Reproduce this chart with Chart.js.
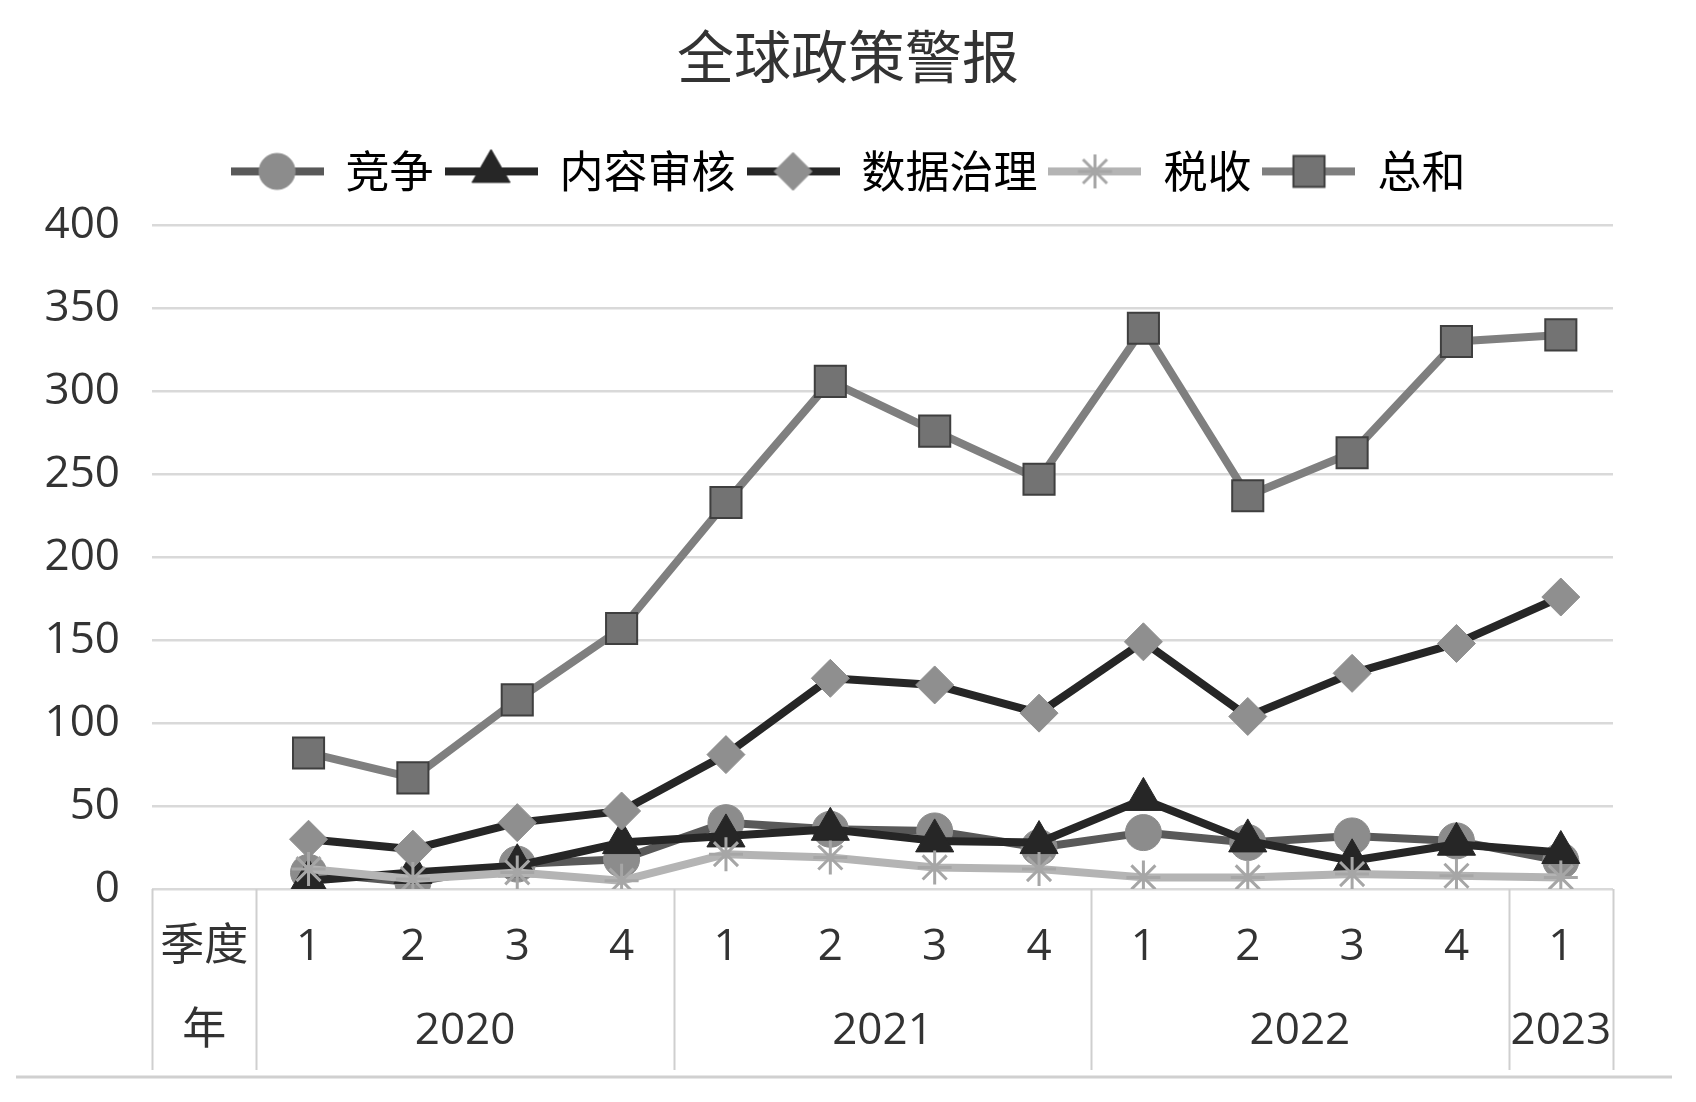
<!DOCTYPE html>
<html lang="zh">

<head>
    <meta charset="UTF-8">
    <title>全球政策警报</title>
    <script src="https://cdn.jsdelivr.net/npm/chart.js"></script>
    <style>
        body { margin: 0; background: #fff; }
        .janela { width: 1696px; height: 1102px; position: relative; }
    </style>
</head>

<body>
    <div class="janela">
        <canvas id="graficoLinha"></canvas>
    </div>

<script>
    // dados (o primeiro slot é o cabeçalho "季度 / 年", sem valores)
    const quarters = ['季度', '1', '2', '3', '4', '1', '2', '3', '4', '1', '2', '3', '4', '1'];
    const yearHeader = '年';
    const years = ['2020', '2021', '2022', '2023'];
    const yearSpans = [4, 4, 4, 1];
    const yTicks = [0, 50, 100, 150, 200, 250, 300, 350, 400];

    const competition = [null, 10, 4, 15, 18, 40, 36, 35, 25, 34, 28, 32, 29, 17];
    const contentReview = [null, 5, 10, 14, 28, 32, 36, 29, 28, 54, 29, 17, 27, 22];
    const dataGovernance = [null, 30, 24, 40, 47, 81, 127, 123, 106, 149, 104, 130, 148, 176];
    const taxation = [null, 12, 6, 10, 5, 21, 19, 13, 12, 7, 7, 9, 8, 7];
    const total = [null, 82, 67, 114, 157, 233, 306, 276, 247, 338, 237, 263, 330, 334];

    const textColor = '#333333';
    const fontFamily = "'Open Sans', 'Noto Sans CJK SC', sans-serif";
    const cjkFamily = "'Noto Sans CJK SC', sans-serif";

    const series = [
        { label: '竞争', data: competition, line: '#595959', fill: '#8c8c8c', edge: '#8c8c8c', shape: 'circle', r: 18, bw: 1, order: 5 },
        { label: '内容审核', data: contentReview, line: '#262626', fill: '#262626', edge: '#262626', shape: 'triangle', r: 22, bw: 1, order: 4 },
        { label: '数据治理', data: dataGovernance, line: '#262626', fill: '#8f8f8f', edge: '#8f8f8f', shape: 'rectRot', r: 19, bw: 1, order: 3 },
        { label: '税收', data: taxation, line: '#b4b4b4', fill: '#a6a6a6', edge: '#a6a6a6', shape: 'star', r: 17, bw: 3, order: 2 },
        { label: '总和', data: total, line: '#7f7f7f', fill: '#737373', edge: '#3f3f3f', shape: 'rect', r: 22, bw: 2, order: 1 }
    ];

    // ícone da legenda: linha + marcador, como no Excel
    function makeIcon(s) {
        const c = document.createElement('canvas');
        c.width = 93;
        c.height = 46;
        const g = c.getContext('2d');
        g.strokeStyle = s.line;
        g.lineWidth = 8;
        g.beginPath();
        g.moveTo(0, 23);
        g.lineTo(93, 23);
        g.stroke();
        g.fillStyle = s.fill;
        g.strokeStyle = s.edge;
        g.lineWidth = s.bw;
        Chart.helpers.drawPoint(g, { pointStyle: s.shape, radius: s.r, rotation: 0, borderWidth: s.bw }, 46.5, 23);
        return c;
    }

    const legendIcons = series.map(makeIcon);

    // espaço extra entre a legenda e a área do gráfico
    const legendGap = {
        id: 'legendGap',
        beforeLayout: function (chart) {
            const lg = chart.legend;
            if (lg && !lg._gapPatched) {
                const fit = lg.fit;
                lg.fit = function () {
                    fit.call(this);
                    this.height += 22;
                };
                lg._gapPatched = true;
            }
        }
    };

    // linha dos anos e divisórias do eixo de categorias
    const yearRow = {
        id: 'yearRow',
        afterDraw: function (chart) {
            const ctx = chart.ctx;
            const xs = chart.scales.x;
            const step = xs.getPixelForValue(1) - xs.getPixelForValue(0);
            const edge = function (i) { return xs.getPixelForValue(i) - step / 2; };
            const top = xs.top;
            const bottom = xs.top + 181;
            const rowY = xs.top + 142;

            const bounds = [0, 1];
            let pos = 1;
            yearSpans.forEach(function (n) { pos += n; bounds.push(pos); });

            ctx.save();
            ctx.strokeStyle = '#cfcfcf';
            ctx.lineWidth = 2;
            bounds.forEach(function (i) {
                const x = Math.round(edge(i)) + 0.5;
                ctx.beginPath();
                ctx.moveTo(x, top);
                ctx.lineTo(x, bottom);
                ctx.stroke();
            });

            ctx.fillStyle = textColor;
            ctx.font = '44px ' + fontFamily;
            ctx.textAlign = 'center';
            ctx.textBaseline = 'middle';
            ctx.fillText(yearHeader, xs.getPixelForValue(0), rowY);
            years.forEach(function (y, k) {
                const a = edge(bounds[k + 1]);
                const b = edge(bounds[k + 2]);
                ctx.fillText(y, (a + b) / 2, rowY);
            });

            // borda inferior do quadro
            ctx.strokeStyle = '#d0d0d0';
            ctx.lineWidth = 3;
            ctx.beginPath();
            ctx.moveTo(16, chart.height - 25);
            ctx.lineTo(chart.width - 24, chart.height - 25);
            ctx.stroke();
            ctx.restore();
        }
    };

    const ctx = document.getElementById('graficoLinha');
    new Chart(ctx, {
        type: 'line',
        data: {
            labels: quarters,
            datasets: series.map(function (s) {
                return {
                    label: s.label,
                    data: s.data,
                    borderColor: s.line,
                    borderWidth: 8,
                    borderJoinStyle: 'round',
                    borderCapStyle: 'round',
                    pointStyle: s.shape,
                    pointRadius: s.r,
                    pointHoverRadius: s.r,
                    pointBackgroundColor: s.fill,
                    pointBorderColor: s.edge,
                    pointBorderWidth: s.bw,
                    tension: 0,
                    order: s.order
                };
            })
        },
        options: {
            responsive: true,
            maintainAspectRatio: false,
            animation: false,
            layout: { padding: 0 },
            plugins: {
                title: {
                    display: true,
                    text: '全球政策警报',
                    color: textColor,
                    font: { size: 57, family: cjkFamily, weight: 'normal' },
                    padding: { top: 22, bottom: 48 }
                },
                legend: {
                    display: true,
                    position: 'top',
                    labels: {
                        usePointStyle: true,
                        pointStyleWidth: 93,
                        padding: 11,
                        color: textColor,
                        font: { size: 44, family: cjkFamily },
                        generateLabels: function (chart) {
                            return chart.data.datasets.map(function (ds, i) {
                                return {
                                    text: ds.label,
                                    pointStyle: legendIcons[i],
                                    fillStyle: 'transparent',
                                    strokeStyle: 'transparent',
                                    lineWidth: 0,
                                    hidden: false,
                                    datasetIndex: i
                                };
                            });
                        }
                    }
                },
                tooltip: { enabled: false }
            },
            scales: {
                x: {
                    offset: true,
                    grid: { display: false, drawTicks: false },
                    border: { display: false },
                    ticks: {
                        autoSkip: false,
                        maxRotation: 0,
                        padding: 32,
                        color: textColor,
                        font: { size: 44, family: fontFamily }
                    },
                    afterFit: function (s) { s.height = 213; }
                },
                y: {
                    min: 0,
                    max: 400,
                    afterBuildTicks: function (s) { s.ticks = yTicks.map(function (v) { return { value: v }; }); },
                    grid: { color: '#d9d9d9', lineWidth: 2.5, drawTicks: false },
                    border: { display: false },
                    ticks: {
                        padding: 32,
                        color: textColor,
                        font: { size: 44, family: fontFamily }
                    },
                    afterFit: function (s) { s.width = 152; }
                },
                yRight: {
                    position: 'right',
                    display: true,
                    grid: { display: false, drawTicks: false },
                    border: { display: false },
                    ticks: { display: false },
                    afterFit: function (s) { s.width = 83; }
                }
            }
        },
        plugins: [legendGap, yearRow]
    });
</script>
</body>

</html>
